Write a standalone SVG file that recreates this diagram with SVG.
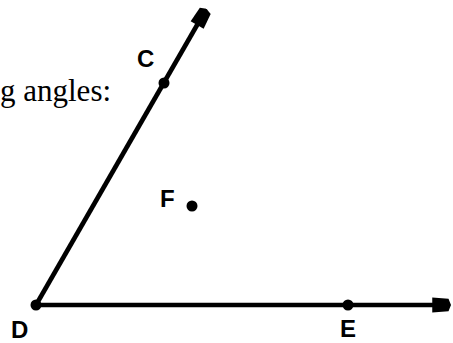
<svg xmlns="http://www.w3.org/2000/svg" width="453" height="343" viewBox="0 0 453 343">
<style>
.ray{stroke:#000;stroke-width:4.6;fill:none}
.dot{fill:#000}
.lbl{font-family:"Liberation Sans",Arial,sans-serif;font-weight:bold;font-size:24px;fill:#000}
.txt{font-family:"Liberation Serif","Times New Roman",serif;font-size:31px;fill:#000}
</style>
<defs>
<marker id="ah" markerUnits="userSpaceOnUse" markerWidth="20" markerHeight="20" viewBox="-12 -8 16 16" refX="0" refY="0" orient="auto">
<polygon points="-11,-6 2,-5 4,0 2,5 -11,6" fill="#000"/>
</marker>
</defs>
<rect width="453" height="343" fill="#fff"/>
<text class="txt" x="0" y="101">g angles:</text>
<g id="connectors">
<line class="ray" x1="36" y1="305" x2="204" y2="13" marker-end="url(#ah)"/>
<line class="ray" x1="36" y1="305" x2="446" y2="305" marker-end="url(#ah)"/>
</g>
<g id="D"><circle class="dot" cx="36" cy="305" r="5.5"/><text class="lbl" x="11" y="338">D</text></g>
<g id="C"><circle class="dot" cx="164" cy="83" r="5.5"/><text class="lbl" x="137" y="67">C</text></g>
<g id="E"><circle class="dot" cx="348" cy="305" r="5.5"/><text class="lbl" x="340" y="337">E</text></g>
<g id="F"><circle class="dot" cx="192" cy="206" r="5.5"/><text class="lbl" x="160" y="207">F</text></g>
</svg>
